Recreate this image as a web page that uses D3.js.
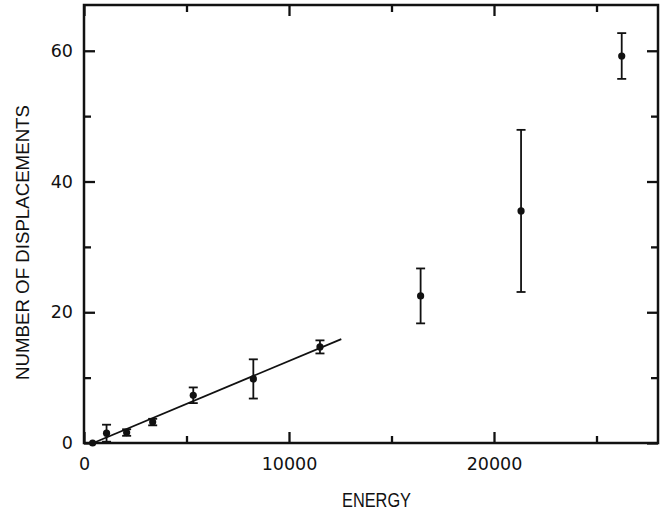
<!DOCTYPE html>
<html>
<head>
<meta charset="utf-8">
<script src="https://cdn.jsdelivr.net/npm/d3@7"></script>
<style>
  body { margin: 0; background: #fff; }
  svg { display: block; }
  .tick text { font-family: "DejaVu Sans", sans-serif; font-size: 17.5px; fill: #111; }
  .domain { display: none; }
  .tick line { stroke: #111; stroke-width: 2.3; }
</style>
</head>
<body>
<svg id="chart" width="660" height="511"></svg>
<script>
'use strict';

// energies of the measured points
var energy = [420, 1100, 2080, 3350, 5330, 8260, 11510, 16420, 21320, 26230];
// number of displacements at each energy
var displacements = [0, 1.5, 1.6, 3.2, 7.3, 9.8, 14.7, 22.5, 35.5, 59.2];
// half-height of the error bars
var errors = [0, 1.3, 0.5, 0.5, 1.2, 3.0, 1.0, 4.2, 12.4, 3.5];
// straight fit through the low-energy points
var fitEnergy = [450, 12550];
var fitValue = [0, 15.9];

var xMajor = [0, 10000, 20000];
var xMinor = [5000, 15000, 25000];
var yMajor = [0, 20, 40, 60];
var yMinor = [10, 30, 50];

var margin = {top: 5, right: 2, bottom: 68, left: 84};
var svg = d3.select('#chart');
var width = +svg.attr('width') - margin.left - margin.right;
var height = +svg.attr('height') - margin.top - margin.bottom;

var x = d3.scaleLinear().domain([0, 28000]).range([0, width]);
var y = d3.scaleLinear().domain([0, 67]).range([height, 0]);

var g = svg.append('g')
    .attr('transform', 'translate(' + margin.left + ',' + margin.top + ')');

// inward ticks on all four sides
g.append('g')
    .attr('transform', 'translate(0,' + height + ')')
    .call(d3.axisBottom(x).tickValues(xMajor).tickSize(-11).tickPadding(15)
        .tickFormat(d3.format('d')));
g.append('g')
    .attr('transform', 'translate(0,' + height + ')')
    .call(d3.axisBottom(x).tickValues(xMinor).tickSize(-7).tickFormat(''));
g.append('g')
    .call(d3.axisTop(x).tickValues(xMajor).tickSize(-11).tickFormat(''));
g.append('g')
    .call(d3.axisTop(x).tickValues(xMinor).tickSize(-7).tickFormat(''));

g.append('g')
    .call(d3.axisLeft(y).tickValues(yMajor).tickSize(-11).tickPadding(11));
g.append('g')
    .call(d3.axisLeft(y).tickValues(yMinor).tickSize(-7).tickFormat(''));
g.append('g')
    .attr('transform', 'translate(' + width + ',0)')
    .call(d3.axisRight(y).tickValues(yMajor).tickSize(-11).tickFormat(''));
g.append('g')
    .attr('transform', 'translate(' + width + ',0)')
    .call(d3.axisRight(y).tickValues(yMinor).tickSize(-7).tickFormat(''));

g.append('rect')
    .attr('width', width)
    .attr('height', height)
    .style('fill', 'none')
    .style('stroke', '#111')
    .style('stroke-width', 2.5);

// fit line
g.append('line')
    .attr('x1', x(fitEnergy[0])).attr('y1', y(fitValue[0]))
    .attr('x2', x(fitEnergy[1])).attr('y2', y(fitValue[1]))
    .style('stroke', '#111')
    .style('stroke-width', 1.8);

var pts = energy.map(function (e, i) {
    return {e: e, v: displacements[i], err: errors[i]};
});

var bars = g.append('g').selectAll('g')
    .data(pts.filter(function (d) { return d.err > 0; }))
    .join('g')
    .style('stroke', '#111')
    .style('stroke-width', 1.8);

bars.append('line')
    .attr('x1', function (d) { return x(d.e); })
    .attr('x2', function (d) { return x(d.e); })
    .attr('y1', function (d) { return y(d.v - d.err); })
    .attr('y2', function (d) { return y(d.v + d.err); });

[-1, 1].forEach(function (s) {
    bars.append('line')
        .attr('x1', function (d) { return x(d.e) - 4.5; })
        .attr('x2', function (d) { return x(d.e) + 4.5; })
        .attr('y1', function (d) { return y(d.v + s * d.err); })
        .attr('y2', function (d) { return y(d.v + s * d.err); });
});

g.append('g').selectAll('circle')
    .data(pts)
    .join('circle')
    .attr('cx', function (d) { return x(d.e); })
    .attr('cy', function (d) { return y(d.v); })
    .attr('r', 3.6)
    .style('fill', '#111');

// axis titles
svg.append('text')
    .attr('x', 342)
    .attr('y', 507)
    .attr('textLength', 69)
    .attr('lengthAdjust', 'spacingAndGlyphs')
    .style('font-family', '"Liberation Sans", Arial, sans-serif')
    .style('font-size', '19.5px')
    .style('fill', '#111')
    .text('ENERGY');

svg.append('text')
    .attr('transform', 'translate(29,380) rotate(-90)')
    .attr('textLength', 275)
    .attr('lengthAdjust', 'spacingAndGlyphs')
    .style('font-family', '"Liberation Sans", Arial, sans-serif')
    .style('font-size', '17.5px')
    .style('fill', '#111')
    .text('NUMBER OF DISPLACEMENTS');
</script>
</body>
</html>
